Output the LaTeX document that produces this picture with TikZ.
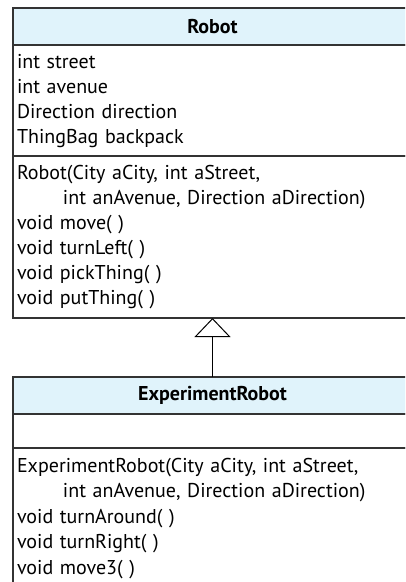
\documentclass[tikz,border=0pt]{standalone}
\usepackage{fontspec}
\setmainfont{PT Sans}
\usetikzlibrary{positioning,arrows.meta}

\definecolor{headblue}{HTML}{E0F3FB}
\definecolor{boxline}{HTML}{333333}

\tikzset{
  compart/.style={draw=boxline, line width=1.3pt, outer sep=0pt,
    inner xsep=4pt, inner ysep=0pt, text width=391pt, align=left,
    font=\fontsize{20}{25}\selectfont},
  headpart/.style={compart, fill=headblue, align=center, minimum height=37pt,
    font=\fontsize{20}{25}\selectfont\bfseries},
  inherits/.style={line width=1pt, -{Triangle[open,width=36pt,length=19pt,fill=white]}}
}

\begin{document}
\begin{tikzpicture}[x=1pt,y=-1pt]
  \useasboundingbox (0,0) rectangle (405,582);
  \clip (0,0) rectangle (405,582);

  % class Robot
  \node[headpart, anchor=north west] (robothead) at (13,8) {Robot};
  \node[compart, minimum height=111pt, below=0pt of robothead] (robotattr)
    {\strut int street\\\strut int avenue\\\strut Direction direction\\\strut ThingBag backpack};
  \node[compart, minimum height=162pt, below=0pt of robotattr] (robotmeth)
    {\strut Robot(City aCity, int aStreet,\\
     \strut\hspace*{46pt}int anAvenue, Direction aDirection)\\
     \strut void move( )\\\strut void turnLeft( )\\\strut void pickThing( )\\\strut void putThing( )};

  % class ExperimentRobot
  \node[headpart, below=59pt of robotmeth] (exphead) {ExperimentRobot};
  \node[compart, minimum height=34pt, below=0pt of exphead] (expattr) {};
  \node[compart, minimum height=140pt, below=0pt of expattr,
    font=\fontsize{20}{25.5}\selectfont] (expmeth)
    {\strut ExperimentRobot(City aCity, int aStreet,\\
     \strut\hspace*{46pt}int anAvenue, Direction aDirection)\\
     \strut void turnAround( )\\\strut void turnRight( )\\\strut void move3( )};

  \draw[inherits] (exphead.north) -- (robotmeth.south);
\end{tikzpicture}
\end{document}
